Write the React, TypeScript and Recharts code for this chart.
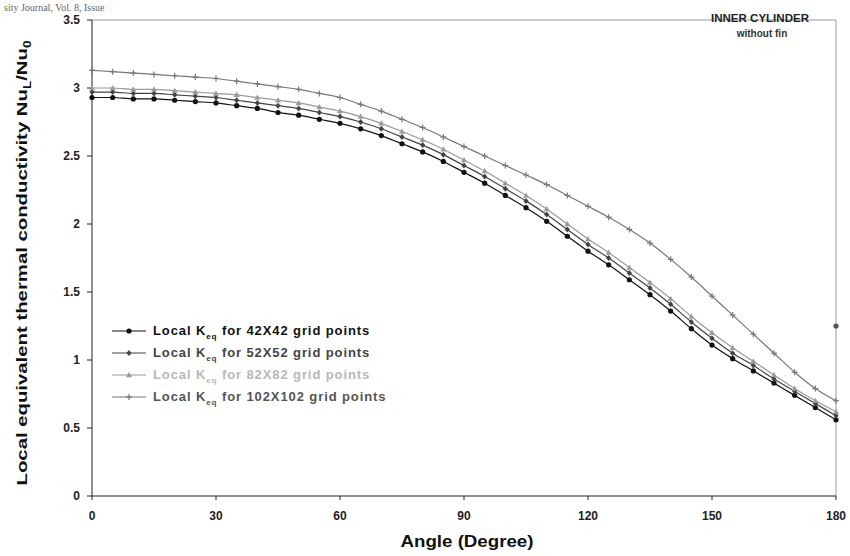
import React from "react"
import { ComposedChart, Line, Scatter, XAxis, YAxis, ReferenceLine } from "recharts"

// angles in degrees, values are Nu_L / Nu_0
const angles = [
  0, 5, 10, 15, 20, 25, 30, 35, 40, 45, 50, 55, 60, 65, 70, 75, 80, 85, 90,
  95, 100, 105, 110, 115, 120, 125, 130, 135, 140, 145, 150, 155, 160, 165, 170, 175, 180,
]

const k42 = [
  2.93, 2.93, 2.92, 2.92, 2.91, 2.9, 2.89, 2.87, 2.85, 2.82, 2.8, 2.77, 2.74, 2.7, 2.65, 2.59, 2.53, 2.46, 2.38,
  2.3, 2.21, 2.12, 2.02, 1.91, 1.8, 1.7, 1.59, 1.48, 1.36, 1.23, 1.11, 1.01, 0.92, 0.83, 0.74, 0.65, 0.56,
]

const k52 = [
  2.97, 2.97, 2.96, 2.96, 2.95, 2.94, 2.93, 2.91, 2.89, 2.87, 2.85, 2.82, 2.79, 2.75, 2.7, 2.64, 2.58, 2.51, 2.43,
  2.35, 2.26, 2.17, 2.07, 1.96, 1.85, 1.75, 1.64, 1.53, 1.41, 1.28, 1.16, 1.05, 0.96, 0.86, 0.77, 0.68, 0.59,
]

const k82 = [
  3.0, 3.0, 2.99, 2.99, 2.98, 2.97, 2.96, 2.95, 2.93, 2.91, 2.89, 2.86, 2.83, 2.79, 2.74, 2.68, 2.62, 2.55, 2.47,
  2.39, 2.3, 2.21, 2.11, 2.0, 1.89, 1.79, 1.68, 1.57, 1.45, 1.32, 1.2, 1.09, 0.99, 0.89, 0.79, 0.7, 0.62,
]

const k102 = [
  3.13, 3.12, 3.11, 3.1, 3.09, 3.08, 3.07, 3.05, 3.03, 3.01, 2.99, 2.96, 2.93, 2.88, 2.83, 2.77, 2.71, 2.64, 2.57,
  2.5, 2.43, 2.36, 2.29, 2.21, 2.13, 2.05, 1.96, 1.86, 1.74, 1.61, 1.47, 1.33, 1.19, 1.05, 0.91, 0.79, 0.7,
]

// lone point sitting on the right frame
const strayPoint = [{ angle: 180, value: 1.25 }]

const xTicks = [0, 30, 60, 90, 120, 150, 180]
const yTicks = [0, 0.5, 1, 1.5, 2, 2.5, 3, 3.5]

const gridLabels = ["42X42", "52X52", "82X82", "102X102"]

const FONT = "'Liberation Sans', Arial, sans-serif"

const table = angles.map((angle, i) => ({
  angle,
  k42: k42[i],
  k52: k52[i],
  k82: k82[i],
  k102: k102[i],
}))

type Marker = "circle" | "diamond" | "triangle" | "plus"

const series: { key: string; color: string; textColor: string; marker: Marker }[] = [
  { key: "k42", color: "#111", textColor: "#111", marker: "circle" },
  { key: "k52", color: "#444", textColor: "#444", marker: "diamond" },
  { key: "k82", color: "#9a9a9a", textColor: "#b8b8b8", marker: "triangle" },
  { key: "k102", color: "#777", textColor: "#555", marker: "plus" },
]

function drawMarker(marker: Marker, cx: number, cy: number, color: string, key?: string) {
  if (marker === "circle") return <circle key={key} cx={cx} cy={cy} r={2.6} fill={color} />
  if (marker === "diamond")
    return (
      <path key={key} d={`M${cx},${cy - 3} L${cx + 2.6},${cy} L${cx},${cy + 3} L${cx - 2.6},${cy} Z`} fill={color} />
    )
  if (marker === "triangle")
    return <path key={key} d={`M${cx},${cy - 3} L${cx + 3},${cy + 2.2} L${cx - 3},${cy + 2.2} Z`} fill={color} />
  return (
    <g key={key} stroke={color} strokeWidth={1.2}>
      <line x1={cx - 3} y1={cy} x2={cx + 3} y2={cy} />
      <line x1={cx} y1={cy - 3} x2={cx} y2={cy + 3} />
    </g>
  )
}

const dotFor = (marker: Marker, color: string) => (props: any) =>
  drawMarker(marker, props.cx, props.cy, color, `${marker}-${props.index}`)

const tickStyle = { fontSize: 12, fill: "#222", fontFamily: FONT, fontWeight: 700 }

export default function App() {
  return (
    <div style={{ position: "absolute", left: 0, top: 0, width: 850, height: 556, background: "#fff" }}>
      <ComposedChart
        width={850}
        height={556}
        data={table}
        margin={{ top: 20, right: 14, bottom: 20, left: 42 }}
      >
        <XAxis
          dataKey="angle"
          type="number"
          domain={[0, 180]}
          ticks={xTicks}
          tickSize={4}
          tickMargin={11}
          stroke="#222"
          height={40}
          tick={tickStyle}
        />
        <YAxis
          type="number"
          domain={[0, 3.5]}
          ticks={yTicks}
          width={50}
          tickSize={5}
          tickMargin={7}
          stroke="#222"
          tick={tickStyle}
        />
        <ReferenceLine y={3.5} stroke="#999" strokeWidth={1} />
        <ReferenceLine x={180} stroke="#999" strokeWidth={1} />

        {series.map((s) => (
          <Line
            key={s.key}
            dataKey={s.key}
            type="monotone"
            stroke={s.color}
            strokeWidth={1.2}
            dot={dotFor(s.marker, s.color)}
            isAnimationActive={false}
          />
        ))}

        <Scatter
          data={strayPoint}
          dataKey="value"
          fill="#555"
          isAnimationActive={false}
          shape={(p: any) => <circle cx={p.cx} cy={p.cy} r={2.6} fill="#555" />}
        />
      </ComposedChart>

      <svg
        width={850}
        height={556}
        style={{ position: "absolute", left: 0, top: 0, pointerEvents: "none" }}
        fontFamily={FONT}
      >
        <text x={4} y={11} fontFamily="'Liberation Serif', serif" fontSize={10} fill="#666">
          sity Journal, Vol. 8, Issue
        </text>

        <text x={760} y={22} textAnchor="middle" fontSize={10} fontWeight={700} fill="#222"
          textLength={98} lengthAdjust="spacingAndGlyphs">
          INNER CYLINDER
        </text>
        <text x={762} y={37} textAnchor="middle" fontSize={10} fontWeight={700} fill="#333">
          without fin
        </text>

        <text
          transform="translate(27,263) rotate(-90)"
          textAnchor="middle"
          fontSize={15}
          fontWeight={700}
          fill="#111"
          textLength={445}
          lengthAdjust="spacingAndGlyphs"
        >
          Local equivalent thermal conductivity Nu
          <tspan fontSize={10} dy={4}>L</tspan>
          <tspan dy={-4}>/Nu</tspan>
          <tspan fontSize={10} dy={4}>0</tspan>
        </text>

        <text x={467} y={547} textAnchor="middle" fontSize={16} fontWeight={700} fill="#111"
          textLength={133} lengthAdjust="spacingAndGlyphs">
          Angle (Degree)
        </text>

        {series.map((s, i) => {
          const y = 331 + i * 22
          return (
            <g key={s.key}>
              <line x1={112} y1={y} x2={146} y2={y} stroke={s.color} strokeWidth={1.2} />
              {drawMarker(s.marker, 129, y, s.color)}
              <text x={153} y={y + 4} fontSize={13} fontWeight={700} fill={s.textColor} letterSpacing={0.9}>
                Local K
                <tspan fontSize={8} dy={4}>eq</tspan>
                <tspan dy={-4}> for {gridLabels[i]} grid points</tspan>
              </text>
            </g>
          )
        })}
      </svg>
    </div>
  )
}
